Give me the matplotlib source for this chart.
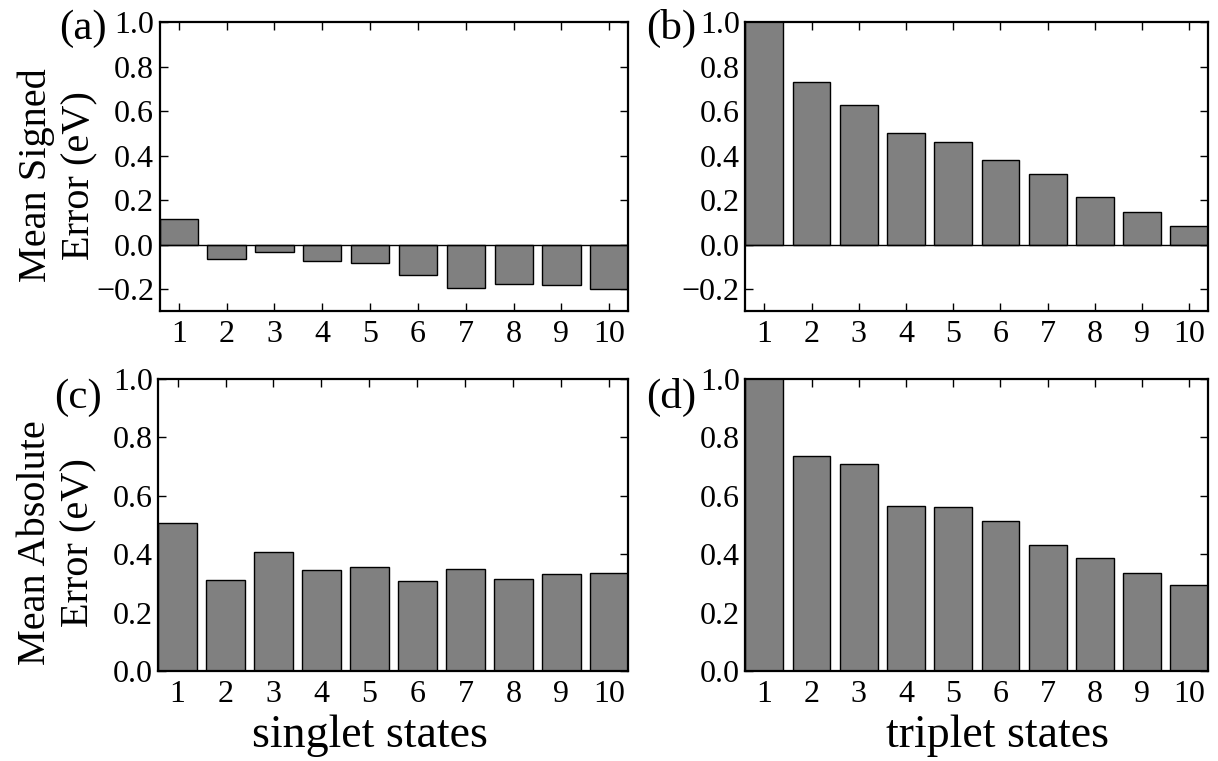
import numpy as np
import matplotlib
matplotlib.use('Agg')
import matplotlib.pyplot as plt

# data (eV)
states = np.arange(1, 11)
mse_singlet = [0.114, -0.063, -0.033, -0.072, -0.081, -0.137, -0.197, -0.179, -0.183, -0.200]
mse_triplet = [1.08, 0.731, 0.627, 0.501, 0.462, 0.379, 0.319, 0.215, 0.147, 0.082]
mae_singlet = [0.507, 0.312, 0.408, 0.347, 0.357, 0.307, 0.350, 0.315, 0.331, 0.336]
mae_triplet = [1.15, 0.737, 0.710, 0.567, 0.563, 0.515, 0.432, 0.386, 0.335, 0.294]
panel_tags = ['(a)', '(b)', '(c)', '(d)']

plt.rcParams['font.family'] = ['Liberation Serif', 'DejaVu Serif']
plt.rcParams['font.size'] = 23
plt.rcParams['axes.linewidth'] = 1.6

fig = plt.figure(figsize=(12.18, 7.61), dpi=100)

# axes boxes [left, bottom, width, height] in figure fractions
boxes = [[0.131, 0.591, 0.385, 0.380],
         [0.612, 0.591, 0.380, 0.380],
         [0.130, 0.118, 0.386, 0.384],
         [0.612, 0.118, 0.380, 0.384]]
series = [mse_singlet, mse_triplet, mae_singlet, mae_triplet]

axes = []
for i, box in enumerate(boxes):
    ax = fig.add_axes(box)
    ax.bar(states, series[i], width=0.8, align='center',
           color='#808080', edgecolor='black', linewidth=1.0, zorder=2)
    ax.set_xlim(0.6, 10.4)
    if i < 2:
        ax.set_ylim(-0.3, 1.0)
        ax.set_yticks([-0.2, 0.0, 0.2, 0.4, 0.6, 0.8, 1.0])
        ax.axhline(0, color='black', linewidth=1.0, zorder=3)
    else:
        ax.set_ylim(0.0, 1.0)
        ax.set_yticks([0.0, 0.2, 0.4, 0.6, 0.8, 1.0])
    ax.set_yticklabels(['\u22120.2' if t < 0 else '%.1f' % t for t in ax.get_yticks()])
    ax.set_xticks(states)
    ax.tick_params(direction='in', top=True, right=True, length=6, width=1.0,
                   labelsize=23)
    ax.tick_params(axis='x', pad=6)
    ax.tick_params(axis='y', pad=4)
    axes.append(ax)

# y labels on the left column
axes[0].set_ylabel('Mean Signed\nError (eV)', fontsize=29, linespacing=1.22)
axes[2].set_ylabel('Mean Absolute\nError (eV)', fontsize=29, linespacing=1.22)
axes[0].yaxis.set_label_coords(-0.13, 0.47)
axes[2].yaxis.set_label_coords(-0.13, 0.44)

# x labels under the bottom row
fig.text(0.304, 0.005, 'singlet states', fontsize=33, ha='center', va='bottom')
fig.text(0.819, 0.005, 'triplet states', fontsize=33, ha='center', va='bottom')

# panel tags
tag_pos = [(0.068, 0.988), (0.551, 0.988), (0.064, 0.503), (0.551, 0.503)]
for tag, (x, y) in zip(panel_tags, tag_pos):
    fig.text(x, y, tag, fontsize=31, ha='center', va='top')

fig.savefig('out.png', dpi=100)
